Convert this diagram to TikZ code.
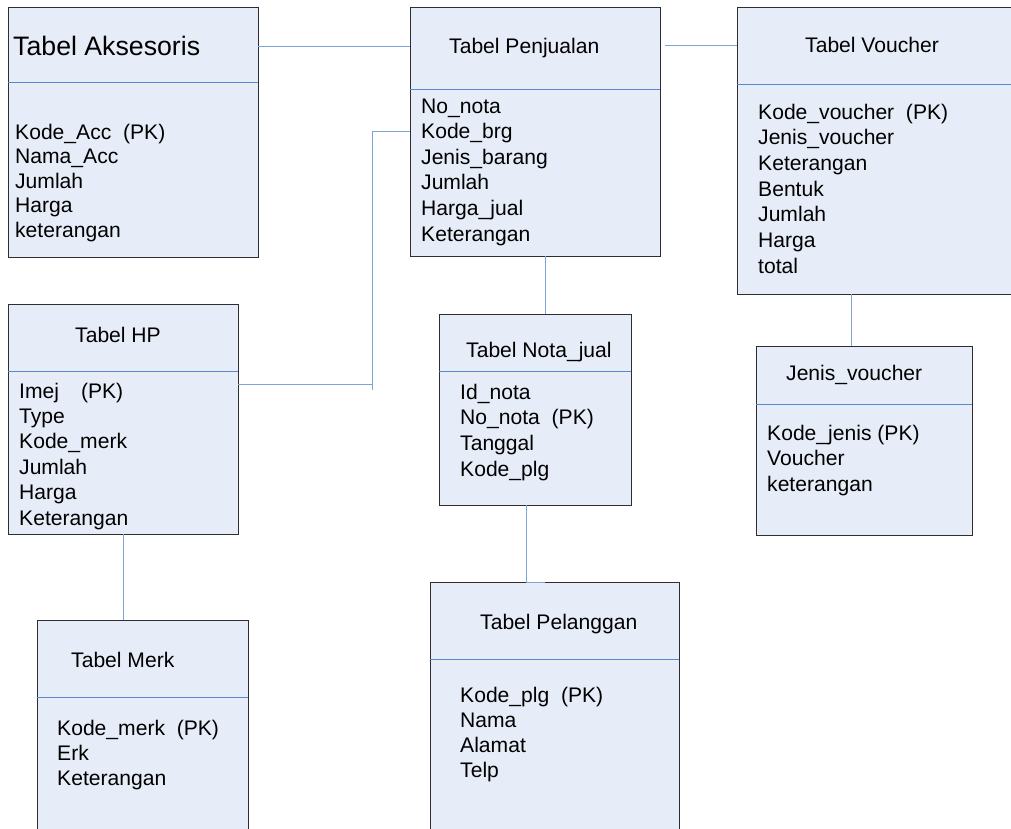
\documentclass[tikz,border=0pt]{standalone}
\usepackage{fontspec}
\setmainfont{Liberation Sans}
\usetikzlibrary{fit}
\definecolor{boxfill}{HTML}{E7EDF8}
\definecolor{boxline}{HTML}{2E2E2E}
\definecolor{divblue}{HTML}{5A86D0}
\definecolor{connblue}{HTML}{7FA3DB}
\tikzset{
  tbox/.style={draw=boxline, fill=boxfill, line width=0.9pt, inner sep=0pt, outer sep=0pt},
  divl/.style={draw=divblue, line width=0.9pt},
  conn/.style={draw=connblue, line width=1pt},
  fld/.style={anchor=base west, inner sep=0pt, font=\fontsize{21.1}{24}\selectfont, text=black},
  ttl/.style={anchor=base west, inner sep=0pt, font=\fontsize{21.1}{24}\selectfont, text=black},
}
\newcommand\mytable[6]{%
  \node[tbox, fit={(#2,#3) (#4,#5)}] (#1) {};
  \draw[divl] (#1.west |- 0,#6) -- (#1.east |- 0,#6);
}
\newcommand\myfields[5]{%
  \foreach \t [count=\i] in {#5} {\node[fld] (#1-\i) at (#2,{#3+(\i-1)*#4}) {\t};}
}
\begin{document}
\begin{tikzpicture}[x=1pt,y=-1pt]
\useasboundingbox (0,0) rectangle (1011,828);
\clip (0,0) rectangle (1011,828);
% tables
\mytable{aks}{8}{7}{258}{257}{82}
\mytable{penj}{410}{7}{660}{256}{89}
\mytable{vouch}{737}{7}{1024}{294}{84}
\mytable{hp}{8}{304}{238}{534}{371}
\mytable{merk}{37}{620}{248}{844}{697}
\mytable{nota}{439}{314}{631}{505}{371}
\mytable{pel}{430}{582}{679}{844}{659}
\mytable{jen}{756}{346}{972}{535}{404}
% titles
\node[ttl, font=\fontsize{26.7}{30}\selectfont] (aks-t) at (13,55) {Tabel Aksesoris};
\node[ttl] (penj-t) at (449,53) {Tabel Penjualan};
\node[ttl] (vouch-t) at (805,52) {Tabel Voucher};
\node[ttl] (hp-t) at (75,342) {Tabel HP};
\node[ttl] (merk-t) at (71,667) {Tabel Merk};
\node[ttl] (nota-t) at (466,357) {Tabel Nota\_jual};
\node[ttl] (pel-t) at (480,629) {Tabel Pelanggan};
\node[ttl] (jen-t) at (786,380) {Jenis\_voucher};
% fields
\myfields{aksf}{15}{139}{24.5}{{Kode\_Acc\ \ (PK)},Nama\_Acc,Jumlah,Harga,keterangan}
\myfields{penjf}{421}{113}{25.6}{No\_nota,Kode\_brg,Jenis\_barang,Jumlah,Harga\_jual,Keterangan}
\myfields{vouchf}{758}{119}{25.7}{{Kode\_voucher\ \ (PK)},Jenis\_voucher,Keterangan,Bentuk,Jumlah,Harga,total}
\myfields{hpf}{19}{398}{25.4}{{Imej\hspace{22pt}(PK)},Type,Kode\_merk,Jumlah,Harga,Keterangan}
\myfields{merkf}{57}{735}{25}{{Kode\_merk\ \ (PK)},Erk,Keterangan}
\myfields{notaf}{460}{399}{25.7}{Id\_nota,{No\_nota\ \ (PK)},Tanggal,Kode\_plg}
\myfields{pelf}{460}{702}{25.3}{{Kode\_plg\ \ (PK)},Nama,Alamat,Telp}
\myfields{jenf}{767}{440}{25.5}{{Kode\_jenis (PK)},Voucher,keterangan}
% connectors
\coordinate (vouchgap) at (665,45);
\coordinate (bendlow) at (372,384);
\coordinate (bendhigh) at (372,131);
\coordinate (bendend) at (372,390);
\coordinate (pelgap) at (545,582);
\draw[conn] (aks.east |- 0,46) -- (penj.west |- 0,46);
\draw[conn] (vouchgap) -- (vouch.west |- vouchgap);
\draw[conn] (hp.east |- bendlow) -- (bendlow) -- (bendhigh) -- (penj.west |- bendhigh);
\draw[conn] (bendlow) -- (bendend);
\draw[conn] (penj.south -| 545,0) -- (nota.north -| 545,0);
\draw[conn] (nota.south -| 526,0) -- (pel.north -| 526,0) -- (pelgap);
\draw[conn] (hp.south -| 123,0) -- (merk.north -| 123,0);
\draw[conn] (vouch.south -| 851,0) -- (jen.north -| 851,0);
\end{tikzpicture}
\end{document}
